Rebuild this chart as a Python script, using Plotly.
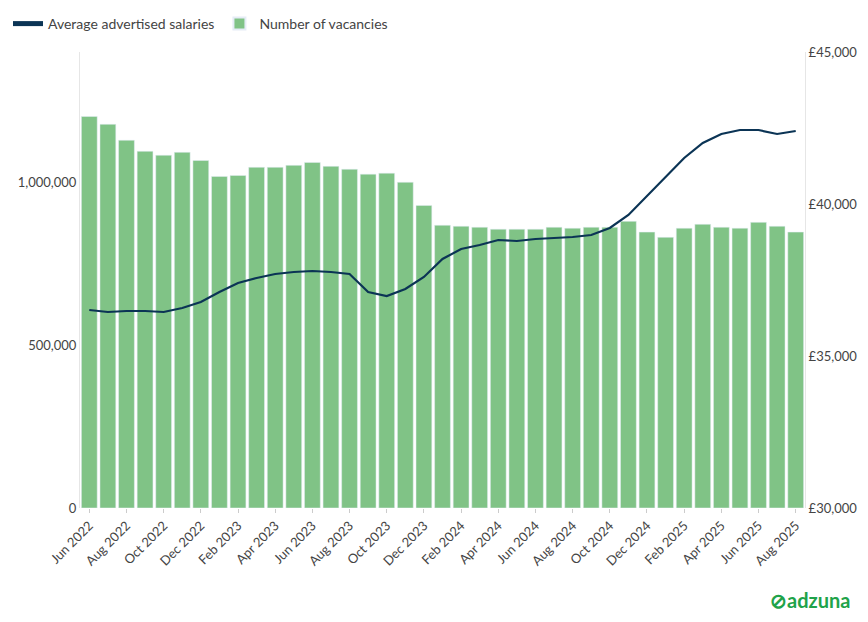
import plotly.graph_objects as go
import pandas as pd

months = pd.date_range("2022-06-01", "2025-08-01", freq="MS")
labels = [m.strftime("%b %Y") for m in months]
vacancies = [1202000,1178000,1129000,1095000,1083000,1092000,1067000,1018000,1021000,1046000,
             1046000,1052000,1061000,1049000,1040000,1025000,1028000,1000000,929000,868000,
             865000,862000,856000,856000,856000,862000,859000,862000,862000,880000,
             847000,831000,859000,871000,862000,859000,877000,865000,847000]
salaries = [36513,36447,36480,36480,36447,36579,36776,37105,37401,37566,
            37697,37763,37796,37763,37697,37105,36974,37204,37599,38191,
            38520,38651,38816,38783,38849,38882,38914,38980,39211,39638,
            40263,40855,41513,42007,42303,42434,42434,42303,42401]
sal_ticks = [30000, 35000, 40000, 45000]

fig = go.Figure()
fig.add_trace(go.Bar(x=labels, y=vacancies, name="Number of vacancies",
                     marker_color="#80c386", yaxis="y"))
fig.add_trace(go.Scatter(x=labels, y=salaries, name="Average advertised salaries",
                         mode="lines", line=dict(color="#0b3455", width=2.2), yaxis="y2"))
fig.update_layout(
    width=868, height=622, margin=dict(l=72, r=71, t=44, b=122, autoexpand=False),
    plot_bgcolor="white", paper_bgcolor="white",
    font=dict(family="Lato, Noto Sans, sans-serif", size=13, color="#444"),
    bargap=0.15,
    legend=dict(orientation="h", xref="container", yref="container", x=0.0, y=1.0,
                xanchor="left", yanchor="top", itemsizing="constant",
                traceorder="reversed", font=dict(size=14)),
    xaxis=dict(tickangle=-45, tickmode="array", tickvals=labels[::2], ticktext=labels[::2],
               showgrid=False, ticks="outside", ticklen=4, tickcolor="#ccc", automargin=False,
               categoryorder="array", categoryarray=labels),
    yaxis=dict(range=[0, 1400000], tickvals=[0, 500000, 1000000], automargin=False,
               tickformat=",", showgrid=False, showline=True, linecolor="#e6e6e6", zeroline=False),
    yaxis2=dict(range=[30000, 45000], overlaying="y", side="right", automargin=False,
                tickvals=sal_ticks, ticktext=[f"£{v:,}" for v in sal_ticks],
                showgrid=False, showline=True, linecolor="#e6e6e6", zeroline=False),
)
fig.add_annotation(text="<b>⊘adzuna</b>", xref="paper", yref="paper", x=1.065, y=-0.17,
                   xanchor="right", yanchor="top", showarrow=False,
                   font=dict(size=20, color="#1fa34a"))
fig.write_html("out.html")
